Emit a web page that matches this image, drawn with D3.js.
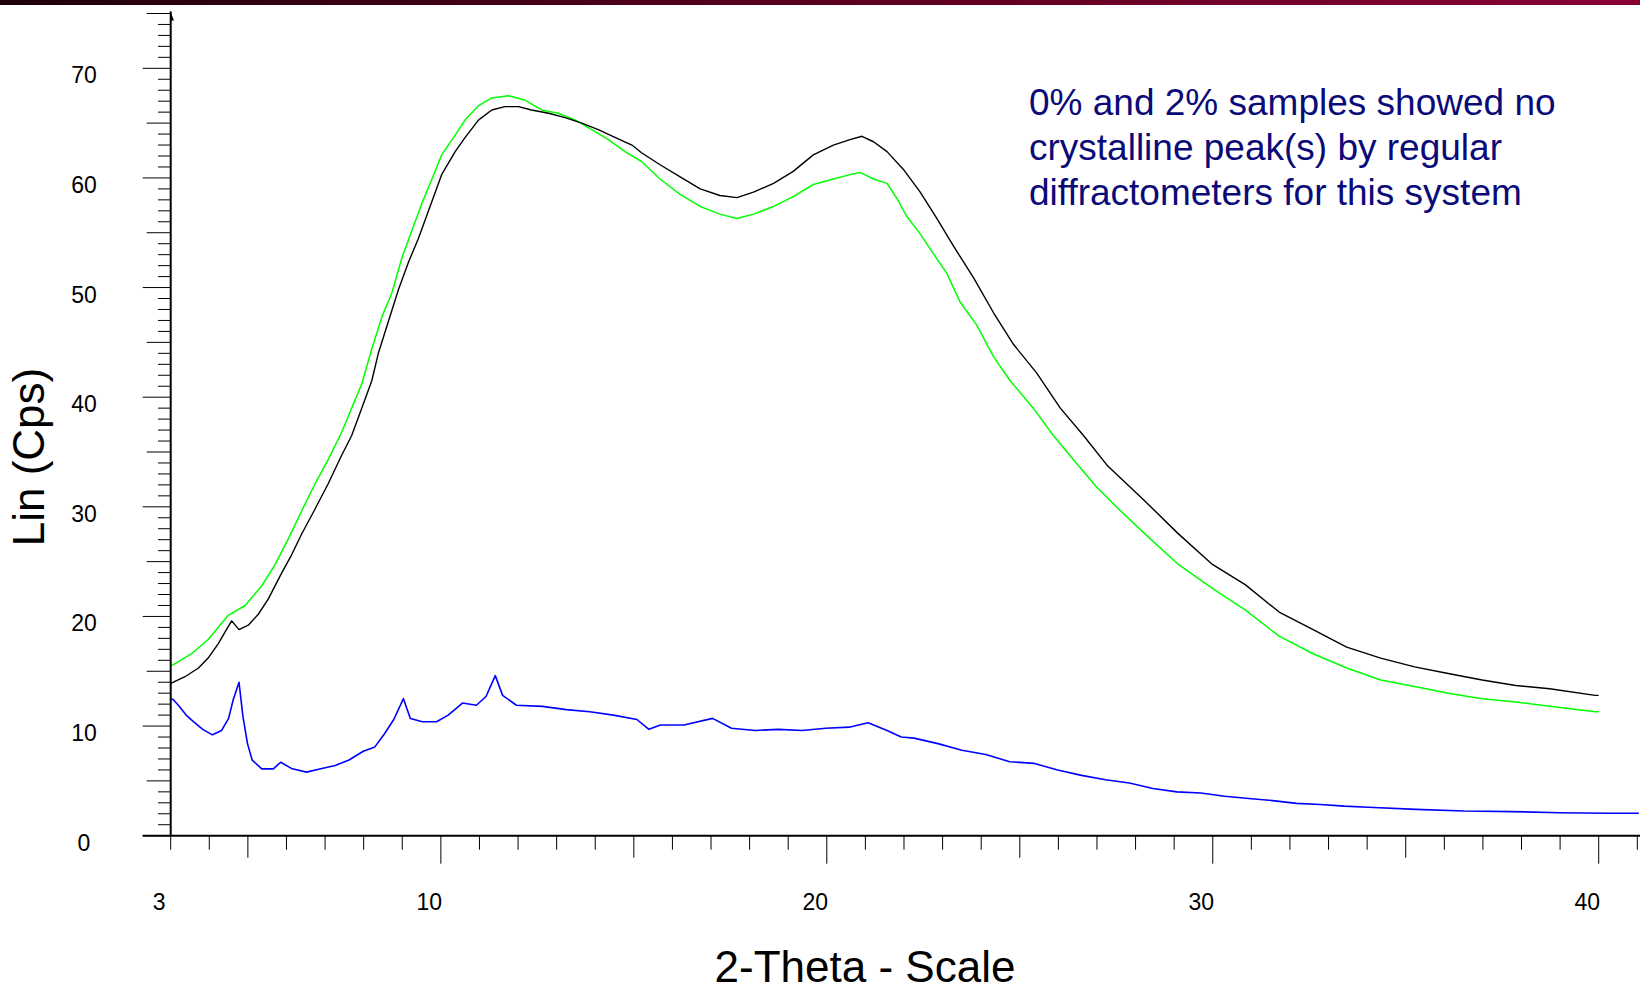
<!DOCTYPE html>
<html>
<head>
<meta charset="utf-8">
<script src="https://cdn.jsdelivr.net/npm/d3@7"></script>
<style>
  html, body { margin: 0; padding: 0; background: #ffffff; }
  svg { display: block; }
  text { font-family: Arial, "Liberation Sans", sans-serif; }
</style>
</head>
<body>
<svg id="chart" width="1640" height="993"></svg>
<script>
// ---------- data ----------
const xTickLabels = [3, 10, 20, 30, 40];
const yTickLabels = [0, 10, 20, 30, 40, 50, 60, 70];
const xAxisTitle = "2-Theta - Scale";
const yAxisTitle = "Lin (Cps)";
const noteLines = [
  "0% and 2% samples showed no",
  "crystalline peak(s) by regular",
  "diffractometers for this system"
];

// black trace
const blackTheta = [3.0,3.07,3.37,3.72,3.97,4.23,4.41,4.58,4.77,5.01,5.27,5.53,5.88,6.13,6.39,6.74,7.08,7.43,7.69,7.95,8.21,8.38,8.64,8.90,9.16,9.42,9.68,10.02,10.37,10.63,10.98,11.32,11.66,12.01,12.35,12.79,13.22,13.65,14.08,14.51,14.95,15.2,15.68,16.20,16.72,17.23,17.67,18.10,18.62,19.13,19.65,20.17,20.60,20.91,21.21,21.56,21.98,22.42,22.85,23.28,23.80,24.32,24.84,25.44,26.05,26.65,27.26,28.22,29.09,29.97,30.84,31.72,32.60,33.47,34.35,35.23,36.10,36.98,37.85,38.73,39.91,40.0];
const blackCps   = [13.9,14.0,14.5,15.3,16.2,17.5,18.6,19.6,18.8,19.2,20.2,21.6,24.0,25.6,27.5,29.8,32.1,34.7,36.5,39.0,41.5,44.0,46.9,49.8,52.3,54.5,57.0,60.3,62.4,63.7,65.3,66.2,66.5,66.5,66.2,65.9,65.5,65.0,64.4,63.7,63.0,62.3,61.2,60.1,59.0,58.4,58.2,58.7,59.5,60.6,62.1,63.0,63.5,63.8,63.3,62.4,60.8,58.7,56.3,53.8,50.9,47.7,44.8,42.2,39.0,36.5,33.8,30.6,27.6,24.8,22.9,20.4,18.8,17.2,16.2,15.4,14.8,14.2,13.7,13.4,12.8,12.8];

// green trace
const greenTheta = [3.0,3.07,3.54,3.97,4.49,4.93,5.36,5.70,6.05,6.39,6.74,7.08,7.43,7.69,7.95,8.21,8.47,8.73,8.99,9.25,9.51,9.77,10.02,10.37,10.63,10.98,11.32,11.75,12.18,12.61,13.04,13.48,13.91,14.34,14.77,15.2,15.68,16.20,16.72,17.23,17.67,18.10,18.62,19.13,19.65,20.17,20.60,20.86,21.21,21.56,21.82,22.07,22.42,22.76,23.11,23.45,23.88,24.32,24.75,25.35,25.87,26.39,26.99,27.56,28.22,29.09,29.97,30.84,31.72,32.60,33.47,34.35,35.23,36.10,36.98,37.85,38.73,39.91,40.0];
const greenCps   = [15.5,15.6,16.6,17.9,20.1,21.0,22.8,24.7,27.1,29.6,32.1,34.3,36.8,39.0,41.2,44.4,47.3,49.5,52.7,55.2,57.7,59.9,62.1,63.9,65.3,66.6,67.3,67.5,67.1,66.2,65.9,65.3,64.4,63.5,62.4,61.5,59.9,58.5,57.4,56.7,56.3,56.7,57.4,58.3,59.4,59.9,60.3,60.5,59.9,59.5,58.1,56.5,54.9,53.1,51.3,48.7,46.6,43.7,41.5,39.0,36.5,34.3,31.8,29.8,27.6,24.8,22.6,20.6,18.2,16.6,15.3,14.2,13.6,13.0,12.5,12.2,11.8,11.3,11.3];

// blue trace
const blueTheta = [3.0,3.07,3.22,3.40,3.59,3.83,4.08,4.32,4.50,4.62,4.77,4.87,4.99,5.11,5.36,5.66,5.85,6.15,6.52,6.89,7.26,7.62,7.99,8.29,8.54,8.78,9.03,9.21,9.52,9.89,10.19,10.56,10.92,11.17,11.41,11.60,11.96,12.63,13.25,13.86,14.47,15.08,15.39,15.69,16.30,17.04,17.53,18.14,18.75,19.36,19.97,20.58,21.07,21.56,21.93,22.26,22.88,23.50,24.12,24.74,25.36,25.98,26.60,27.22,27.84,28.45,29.07,29.69,30.31,30.93,31.55,32.17,32.79,33.41,34.03,35.27,36.51,37.75,38.99,40.23,41.04];
const blueCps   = [12.5,12.4,11.8,11.0,10.4,9.7,9.2,9.6,10.7,12.4,14.0,10.9,8.4,6.9,6.1,6.1,6.7,6.1,5.8,6.1,6.4,6.9,7.7,8.1,9.3,10.6,12.5,10.7,10.4,10.4,11.0,12.1,11.9,12.7,14.6,12.8,11.9,11.8,11.5,11.3,11.0,10.6,9.7,10.1,10.1,10.7,9.8,9.6,9.7,9.6,9.8,9.9,10.3,9.6,9.0,8.9,8.4,7.8,7.4,6.75,6.6,6.0,5.5,5.1,4.8,4.3,4.0,3.9,3.6,3.4,3.2,2.95,2.85,2.7,2.6,2.4,2.25,2.2,2.1,2.05,2.05];

// ---------- chart ----------
const svg = d3.select("#chart");
const W = 1640, H = 993;

const x = d3.scaleLinear().domain([3, 41.07]).range([170.7, 1640]);
const y = d3.scaleLinear().domain([0, 70]).range([835.7, 68.3]);

// top banner bar
const defs = svg.append("defs");
const grad = defs.append("linearGradient").attr("id", "bar").attr("x1", "0").attr("x2", "1");
grad.append("stop").attr("offset", "0").attr("stop-color", "#1e0009");
grad.append("stop").attr("offset", "0.5").attr("stop-color", "#5a0020");
grad.append("stop").attr("offset", "1").attr("stop-color", "#880034");
svg.append("rect").attr("x", 0).attr("y", 0).attr("width", W).attr("height", 5).attr("fill", "url(#bar)");

// traces
const line = d3.line().x(d => x(d[0])).y(d => y(d[1]));
function drawSeries(xs, ys, color, width) {
  svg.append("path")
    .datum(xs.map((v, i) => [v, ys[i]]))
    .attr("fill", "none")
    .attr("stroke", color)
    .attr("stroke-width", width)
    .attr("stroke-linejoin", "round")
    .attr("d", line);
}
drawSeries(greenTheta, greenCps, "#00ff00", 1.5);
drawSeries(blackTheta, blackCps, "#000000", 1.4);
drawSeries(blueTheta, blueCps, "#0000ff", 1.6);

// y axis ticks
const yAxisG = svg.append("g");
const yTicks = d3.range(0, 76, 1);
yAxisG.selectAll("line.yt").data(yTicks).enter().append("line")
  .attr("x1", d => d % 10 === 0 ? 142.7 : (d % 5 === 0 ? 146.7 : 158))
  .attr("x2", 170.7)
  .attr("y1", d => y(d)).attr("y2", d => y(d))
  .attr("stroke", "#000").attr("stroke-width", 1);
yAxisG.append("line")
  .attr("x1", 170.7).attr("x2", 170.7)
  .attr("y1", y(0)).attr("y2", y(75) - 2)
  .attr("stroke", "#000").attr("stroke-width", 2);
// little arrow head at the top of the y axis
yAxisG.append("path")
  .attr("d", `M170,${y(75) - 3} L174,${y(75) + 7} L170,${y(75) + 7} Z`)
  .attr("fill", "#000");

yAxisG.selectAll("text.yl").data(yTickLabels).enter().append("text")
  .attr("x", 84).attr("y", d => y(d) + 15)
  .attr("text-anchor", "middle")
  .attr("font-size", 23).attr("fill", "#000")
  .text(d => d);

// x axis
const xAxisG = svg.append("g");
const xTicks = d3.range(3, 42, 1);
xAxisG.selectAll("line.xt").data(xTicks).enter().append("line")
  .attr("x1", d => x(d)).attr("x2", d => x(d))
  .attr("y1", y(0))
  .attr("y2", d => y(0) + (d % 10 === 0 ? 28 : (d % 5 === 0 ? 22 : 14)))
  .attr("stroke", "#000").attr("stroke-width", 1);
xAxisG.append("line")
  .attr("x1", 142.7).attr("x2", W)
  .attr("y1", y(0)).attr("y2", y(0))
  .attr("stroke", "#000").attr("stroke-width", 2);
xAxisG.selectAll("text.xl").data(xTickLabels).enter().append("text")
  .attr("x", d => x(d) - 11.5).attr("y", 909.5)
  .attr("text-anchor", "middle")
  .attr("font-size", 23).attr("fill", "#000")
  .text(d => d);

// axis titles
svg.append("text")
  .attr("x", 865).attr("y", 982)
  .attr("text-anchor", "middle")
  .attr("font-size", 44).attr("fill", "#000")
  .text(xAxisTitle);
svg.append("text")
  .attr("transform", "translate(44,457) rotate(-90)")
  .attr("text-anchor", "middle")
  .attr("font-size", 44).attr("fill", "#000")
  .text(yAxisTitle);

// annotation
svg.append("g").selectAll("text").data(noteLines).enter().append("text")
  .attr("x", 1029).attr("y", (d, i) => 115 + i * 45)
  .attr("font-size", 37).attr("fill", "#0a0a78")
  .text(d => d);
</script>
</body>
</html>
